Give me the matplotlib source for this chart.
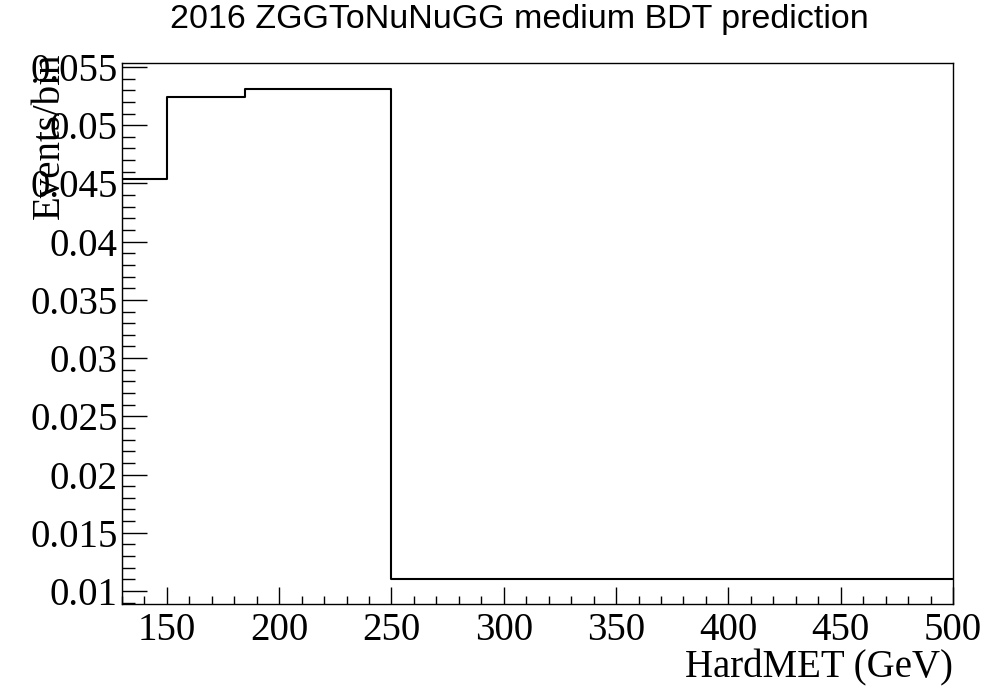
import matplotlib
matplotlib.use("Agg")
import matplotlib.pyplot as plt
import numpy as np
from matplotlib.ticker import MultipleLocator

# Histogram bins and contents
bin_edges = [130, 150, 185, 250, 500]
bin_values = [0.04538, 0.05242, 0.05311, 0.01103]

fig = plt.figure(figsize=(9.9, 7), dpi=100)
ax = fig.add_axes([0.1232, 0.1371, 0.8394, 0.7729])

vals = bin_values + [bin_values[-1]]
ax.step(bin_edges, vals, where="post", color="black", lw=1.5)
ax.plot([bin_edges[0], bin_edges[0]], [0, bin_values[0]], color="black", lw=1.5)

ax.set_xlim(130, 500)
ax.set_ylim(0.00888, 0.05534)
ax.xaxis.set_major_locator(MultipleLocator(50))
ax.xaxis.set_minor_locator(MultipleLocator(10))
ax.yaxis.set_major_locator(MultipleLocator(0.005))
ax.yaxis.set_minor_locator(MultipleLocator(0.001))
ax.set_yticks(np.arange(0.01, 0.0551, 0.005))
ax.set_yticklabels(["0.01", "0.015", "0.02", "0.025", "0.03", "0.035", "0.04", "0.045", "0.05", "0.055"])

serif = ["Liberation Serif", "DejaVu Serif"]
for lbl in ax.get_xticklabels() + ax.get_yticklabels():
    lbl.set_family(serif)
    lbl.set_fontsize(28)

ax.tick_params(axis="x", which="major", direction="in", length=12, width=1, pad=6)
ax.tick_params(axis="x", which="minor", direction="in", length=6, width=1)
ax.tick_params(axis="y", which="major", direction="in", length=18, width=1, pad=3)
ax.tick_params(axis="y", which="minor", direction="in", length=9, width=1)
for s in ax.spines.values():
    s.set_linewidth(1)

ax.set_xlabel("HardMET (GeV)", family=serif, fontsize=28, loc="right", labelpad=0)
ax.set_ylabel("Events/bin", family=serif, fontsize=28, loc="top", labelpad=-22)
ax.yaxis.set_label_coords(-0.11, 1.02, transform=ax.transAxes)
ax.yaxis.label.set_va("top")

fig.text(0.525, 0.972, "2016 ZGGToNuNuGG medium BDT prediction", ha="center", va="center",
         family=["Liberation Sans", "DejaVu Sans"], fontsize=24.5)

fig.savefig("out.png", dpi=100)
